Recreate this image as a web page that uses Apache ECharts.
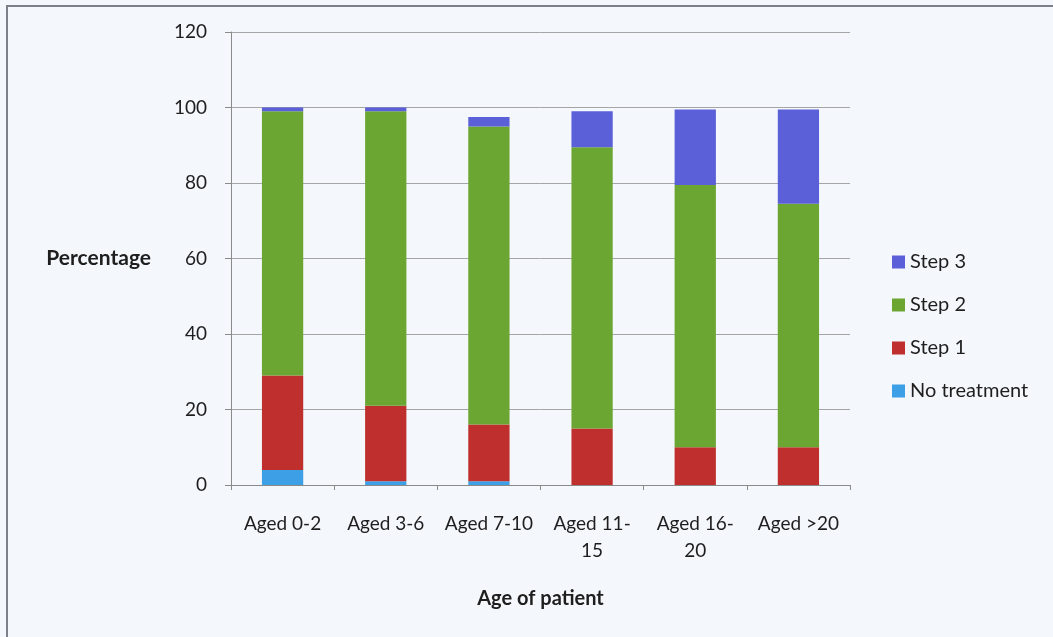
<!DOCTYPE html>
<html>
<head>
<meta charset="utf-8">
<script src="https://cdn.jsdelivr.net/npm/echarts@6/dist/echarts.min.js"></script>
<style>
  html, body { margin: 0; padding: 0; background: #f4f7fb; }
  #chart { width: 1053px; height: 637px; }
</style>
</head>
<body>
<div id="chart"></div>
<script>
// categories and values (percent)
var categories = ['Aged 0-2', 'Aged 3-6', 'Aged 7-10', 'Aged 11-\n15', 'Aged 16-\n20', 'Aged >20'];
var noTreatment = [4, 1, 1, 0, 0, 0];
var step1 = [25, 20, 15, 15, 10, 10];
var step2 = [70, 78, 79, 74.5, 69.5, 64.5];
var step3 = [1, 1, 2.5, 9.5, 20, 25];
var yTicks = [0, 20, 40, 60, 80, 100, 120];

var font = 'Lato, "Open Sans", sans-serif';

var myChart = echarts.init(document.getElementById('chart'));

function bar(name, data, color) {
	return {
		name: name,
		type: 'bar',
		stack: 'total',
		barWidth: '40%',
		data: data,
		itemStyle: { color: color }
	};
}

var option = {
	backgroundColor: '#f4f7fb',
	animation: false,
	graphic: [{
		type: 'rect',
		shape: { x: 7, y: 6, width: 1080, height: 680 },
		style: { fill: 'none', stroke: '#7d8088', lineWidth: 2 }
	}],
	grid: { left: 231, right: 203, top: 32, bottom: 152 },
	legend: {
		orient: 'vertical',
		left: 887,
		top: 245,
		itemWidth: 13,
		itemHeight: 13,
		itemGap: 19,
		icon: 'rect',
		textStyle: { fontFamily: font, fontSize: 20, color: '#1e1e1e', lineHeight: 24 },
		data: ['Step 3', 'Step 2', 'Step 1', 'No treatment']
	},
	xAxis: {
		type: 'category',
		data: categories,
		name: 'Age of patient',
		nameLocation: 'middle',
		nameGap: 104,
		nameTextStyle: { fontFamily: font, fontSize: 20, fontWeight: 'bold', color: '#1e1e1e' },
		axisLine: { lineStyle: { color: '#8a8a8a' } },
		axisTick: { show: true, length: 5, lineStyle: { color: '#8a8a8a' } },
		axisLabel: { interval: 0, fontFamily: font, fontSize: 19, color: '#1e1e1e', margin: 25, lineHeight: 27 }
	},
	yAxis: {
		type: 'value',
		min: 0,
		max: 120,
		interval: 20,
		name: 'Percentage',
		nameLocation: 'middle',
		nameRotate: 0,
		nameGap: 80,
		nameTextStyle: { fontFamily: font, fontSize: 21, fontWeight: 'bold', color: '#1e1e1e', align: 'right' },
		axisLine: { show: true, lineStyle: { color: '#8a8a8a' } },
		axisTick: { show: true, length: 6, lineStyle: { color: '#8a8a8a' } },
		splitLine: { lineStyle: { color: '#a5a5a5' } },
		axisLabel: {
			fontFamily: font, fontSize: 19, color: '#1e1e1e', margin: 24,
			formatter: function (v) { return yTicks.indexOf(v) >= 0 ? String(v) : ''; }
		}
	},
	series: [
		bar('No treatment', noTreatment, '#3d9fe6'),
		bar('Step 1', step1, '#bf2f2d'),
		bar('Step 2', step2, '#6aa631'),
		bar('Step 3', step3, '#5b5fd8')
	]
};
myChart.setOption(option);
</script>
</body>
</html>
